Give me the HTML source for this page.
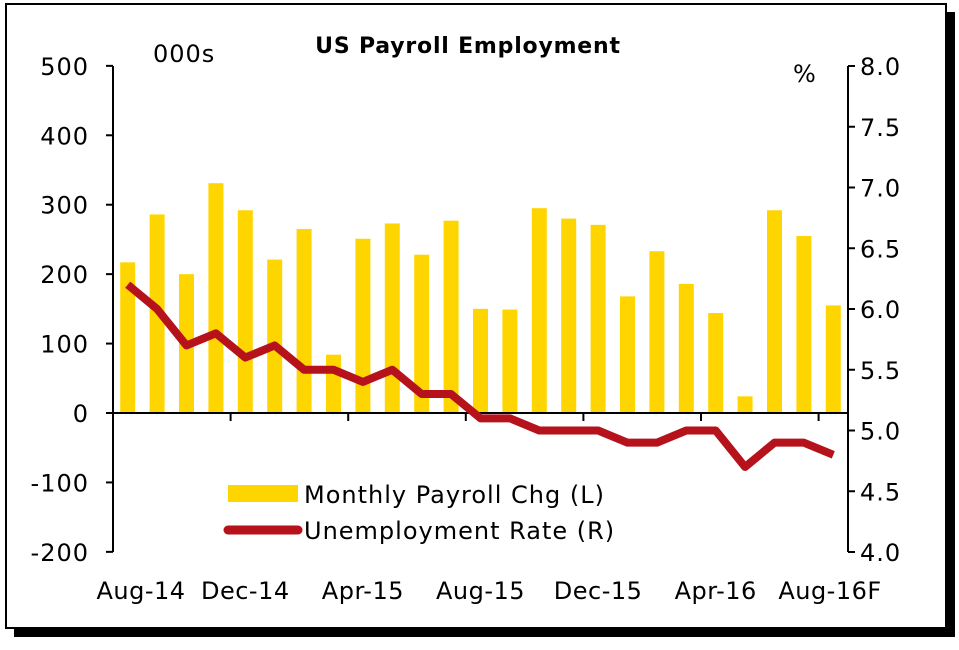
<!DOCTYPE html>
<html><head><meta charset="utf-8"><style>
body{margin:0;background:#fff;}
svg text{font-family:"DejaVu Sans","Liberation Sans",sans-serif;}
</style></head><body>
<svg id="chart" width="959" height="645" viewBox="0 0 959 645" xmlns="http://www.w3.org/2000/svg">
<rect x="14" y="12" width="941" height="625" fill="#000"/>
<rect x="6" y="4" width="940" height="624" fill="#fff" stroke="#000" stroke-width="2"/>
<text x="468" y="53" text-anchor="middle" font-size="22" font-weight="bold" letter-spacing="0.8">US Payroll Employment</text>
<text x="153" y="62" font-size="24" letter-spacing="1">000s</text>
<text x="793" y="82" font-size="24">%</text>
<g id="bars"></g><g id="axes"></g><g id="line"></g>
<g>
<rect x="228" y="485" width="70" height="17" fill="#FFD500"/>
<text x="304" y="503" font-size="24" letter-spacing="1">Monthly Payroll Chg (L)</text>
<line x1="228" y1="530" x2="298" y2="530" stroke="#B5121B" stroke-width="9" stroke-linecap="round"/>
<text x="304" y="539" font-size="24" letter-spacing="1">Unemployment Rate (R)</text>
</g>
</svg>
<script>
const months=["Aug-14","Sep-14","Oct-14","Nov-14","Dec-14","Jan-15","Feb-15","Mar-15","Apr-15","May-15","Jun-15","Jul-15","Aug-15","Sep-15","Oct-15","Nov-15","Dec-15","Jan-16","Feb-16","Mar-16","Apr-16","May-16","Jun-16","Jul-16","Aug-16F"];
const payroll=[217,286,200,331,292,221,265,84,251,273,228,277,150,149,295,280,271,168,233,186,144,24,292,255,155];
const unemp=[6.2,6.0,5.7,5.8,5.6,5.7,5.5,5.5,5.4,5.5,5.3,5.3,5.1,5.1,5.0,5.0,5.0,4.9,4.9,5.0,5.0,4.7,4.9,4.9,4.8];
const leftTicks=[-200,-100,0,100,200,300,400,500];
const rightTicks=[4.0,4.5,5.0,5.5,6.0,6.5,7.0,7.5,8.0];
const NS="http://www.w3.org/2000/svg";
const x0=113,x1=848,step=(x1-x0)/months.length;
const xc=i=>x0+step*(i+0.5);
const yL=v=>413-(v)*(552-66)/700;
const yR=v=>552-(v-4)*(552-66)/4;
function mk(tag,attrs,parent){const e=document.createElementNS(NS,tag);for(const k in attrs)e.setAttribute(k,attrs[k]);document.getElementById(parent).appendChild(e);return e;}
payroll.forEach((v,i)=>{const w=15;const r=mk('rect',{x:xc(i)-w/2,y:Math.min(yL(v),yL(0)),width:w,height:Math.abs(yL(v)-yL(0)),fill:'#FFD500'},'bars');

});
let a=mk('line',{x1:x0,y1:66,x2:x0,y2:552,stroke:'#000','stroke-width':2},'axes');


a=mk('line',{x1:x1,y1:66,x2:x1,y2:552,stroke:'#000','stroke-width':2},'axes');


a=mk('line',{x1:x0,y1:yL(0),x2:x1,y2:yL(0),stroke:'#000','stroke-width':2},'axes');


leftTicks.forEach(v=>{mk('line',{x1:x0-7,y1:yL(v),x2:x0,y2:yL(v),stroke:'#000','stroke-width':2},'axes');
const t=mk('text',{x:x0-24,y:yL(v)+9,'text-anchor':'end','font-size':24,'letter-spacing':1},'axes');t.textContent=v;

});
rightTicks.forEach(v=>{mk('line',{x1:x1,y1:yR(v),x2:x1+7,y2:yR(v),stroke:'#000','stroke-width':2},'axes');
const t=mk('text',{x:x1+12,y:yR(v)+9,'font-size':24,'letter-spacing':1},'axes');t.textContent=v.toFixed(1);

});
months.forEach((m,i)=>{if(i%4===0){
if(i>0)mk('line',{x1:x0+step*i,y1:yL(0),x2:x0+step*i,y2:yL(0)+8,stroke:'#000','stroke-width':2},'axes');
const t=mk('text',{x:i===0?141:(i===24?830:xc(i)),y:599,'text-anchor':'middle','font-size':24,'letter-spacing':0.5},'axes');t.textContent=m;

}});
const p=mk('polyline',{points:unemp.map((v,i)=>xc(i)+','+yR(v)).join(' '),fill:'none',stroke:'#B5121B','stroke-width':8,'stroke-linejoin':'round'},'line');


</script>
</body></html>
